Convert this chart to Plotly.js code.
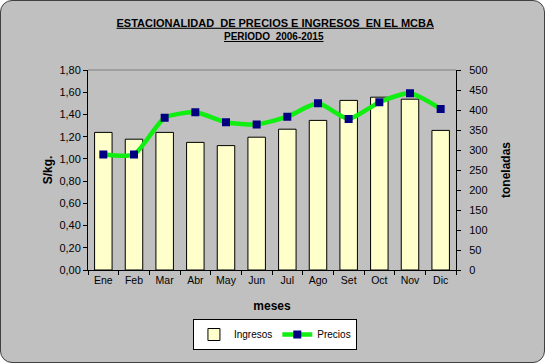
<!DOCTYPE html>
<html>
<head>
<meta charset="utf-8">
<script src="https://cdn.plot.ly/plotly-3.0.1.min.js"></script>
<style>
html,body{margin:0;padding:0;background:#ffffff;}
#frame{position:absolute;left:0;top:0;width:543px;height:361px;border:1px solid #404040;border-radius:12px;background:#c0c0c0;overflow:hidden;}
#chart{position:absolute;left:-1px;top:-1px;width:545px;height:363px;}
</style>
</head>
<body>
<div id="frame"><div id="chart"></div></div>
<script>
const meses = ["Ene","Feb","Mar","Abr","May","Jun","Jul","Ago","Set","Oct","Nov","Dic"];
const ingresos = [344, 327, 344, 319, 311, 332, 352, 374, 424, 432, 427, 349];
const precios = [1.04, 1.04, 1.37, 1.42, 1.33, 1.31, 1.38, 1.50, 1.36, 1.51, 1.59, 1.45];

const font = "Arial, 'Liberation Sans', sans-serif";

const traces = [
  {
    type: "bar", name: "Ingresos", x: meses, y: ingresos, yaxis: "y",
    marker: {color: "#ffffcc", line: {color: "#000000", width: 1}},
    width: 0.57
  },
  {
    type: "scatter", mode: "lines+markers", name: "Precios", x: meses, y: precios, yaxis: "y2",
    line: {color: "#11ee11", width: 4.5, shape: "spline", smoothing: 0.6},
    marker: {symbol: "square", size: 8, color: "#000080"}
  }
];

const layout = {
  width: 545, height: 363,
  paper_bgcolor: "rgba(0,0,0,0)", plot_bgcolor: "#c0c0c0",
  margin: {l: 88, r: 89, t: 70, b: 93},
  font: {family: font, size: 11, color: "#000"},
  separators: ",.",
  showlegend: true,
  title: {
    text: "<b><u>ESTACIONALIDAD&nbsp; DE PRECIOS E INGRESOS&nbsp; EN EL MCBA</u></b>",
    font: {family: font, size: 11, color: "#000"},
    x: 0.505, xanchor: "center", y: 0.937, yanchor: "middle"
  },
  annotations: [{
    text: "<b><u>PERIODO&nbsp; 2006-2015</u></b>",
    xref: "paper", yref: "paper", x: 0.505, y: 1.165, xanchor: "center", yanchor: "middle",
    showarrow: false, font: {family: font, size: 10, color: "#000"}
  }],
  xaxis: {
    type: "category", range: [-0.5, 11.5], autorange: false,
    showline: true, linecolor: "#000", linewidth: 1,
    ticks: "outside", ticklen: 4, tickcolor: "#000", tickson: "boundaries",
    showgrid: false, mirror: false, tickangle: 0, automargin: false,
    tickfont: {size: 10.5},
    title: {text: "<b>meses</b>", font: {size: 12}, standoff: 17}
  },
  yaxis: {
    range: [0, 500], dtick: 50, side: "right", automargin: false,
    showline: true, linecolor: "#000", ticks: "outside", ticklen: 4, tickcolor: "#000",
    ticklabelstandoff: 6,
    showgrid: false, zeroline: false,
    tickfont: {size: 11},
    title: {text: "<b>toneladas</b>", font: {size: 12}, standoff: 15}
  },
  yaxis2: {
    range: [0, 1.8], dtick: 0.2, tickformat: ".2f", overlaying: "y", side: "left", automargin: false,
    showline: true, linecolor: "#000", ticks: "outside", ticklen: 4, tickcolor: "#000",
    showgrid: false, zeroline: false,
    tickfont: {size: 11},
    title: {text: "<b>S/kg.</b>", font: {size: 12}, standoff: 4}
  },
  shapes: [{
    type: "line", xref: "paper", yref: "paper", x0: 0, x1: 1, y0: 1, y1: 1,
    line: {color: "#808080", width: 1}
  }],
  legend: {
    orientation: "h", x: 0.508, xanchor: "center", y: -0.245, yanchor: "top",
    bgcolor: "#ffffff", bordercolor: "#000", borderwidth: 1,
    font: {size: 10}, traceorder: "normal"
  }
};

Plotly.newPlot("chart", traces, layout, {displayModeBar: false, staticPlot: true});
</script>
</body>
</html>
